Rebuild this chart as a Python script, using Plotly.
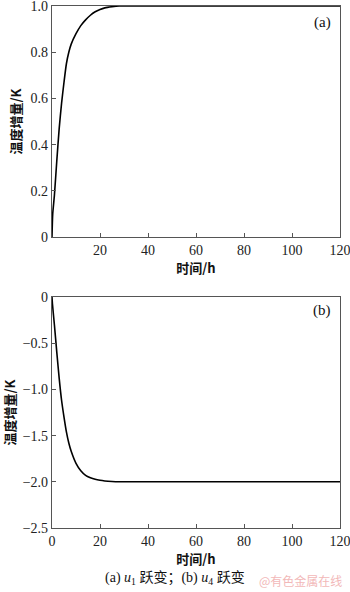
import plotly.graph_objects as go

# Data
t_a = [0, 0.3, 1, 2, 3, 4, 5, 6, 7, 8, 10, 12, 14, 16, 18, 20, 22, 25, 28, 30, 120]
y_a = [0, 0.1, 0.18, 0.33, 0.47, 0.58, 0.67, 0.75, 0.8, 0.835, 0.88, 0.915, 0.94,
       0.96, 0.975, 0.985, 0.992, 0.997, 1.0, 1.0, 1.0]

t_b = [0, 0.2, 1, 2, 3, 4, 5, 6, 7, 8, 10, 12, 14, 16, 18, 20, 22, 25, 28, 30, 120]
y_b = [0, -0.08, -0.3, -0.6, -0.88, -1.12, -1.3, -1.46, -1.58, -1.67, -1.8, -1.88,
       -1.93, -1.956, -1.973, -1.984, -1.991, -1.997, -2.0, -2.0, -2.0]

xticks_a = [20, 40, 60, 80, 100, 120]
xticks_b = [0, 20, 40, 60, 80, 100, 120]
yticks_a = [0, 0.2, 0.4, 0.6, 0.8, 1.0]
ytext_a = ["0", "0.2", "0.4", "0.6", "0.8", "1.0"]
yticks_b = [0, -0.5, -1.0, -1.5, -2.0, -2.5]
ytext_b = ["0", "\u22120.5", "\u22121.0", "\u22121.5", "\u22122.0", "\u22122.5"]

W, H = 350, 592
SERIF = "Liberation Serif"
CJK = "Noto Sans CJK SC"
AX = "#555555"

fig = go.Figure()
fig.add_trace(go.Scatter(x=t_a, y=y_a, mode="lines", line=dict(color="black", width=1.6,
                         shape="spline", smoothing=0.6), xaxis="x", yaxis="y", showlegend=False))
fig.add_trace(go.Scatter(x=t_b, y=y_b, mode="lines", line=dict(color="black", width=1.6,
                         shape="spline", smoothing=0.6), xaxis="x2", yaxis="y2", showlegend=False))

def px_x(p):
    return p / W

def px_y(p):
    return 1 - p / H

common_axis = dict(showline=True, linecolor=AX, linewidth=1.3, mirror=True,
                   ticks="inside", ticklen=4, tickcolor=AX, tickwidth=1,
                   showgrid=False, zeroline=False, automargin=False,
                   ticklabeloverflow="allow",
                   tickfont=dict(family=SERIF, size=14, color="#222"))

title_font = dict(family=CJK, size=13, color="#111", weight="bold")

def note(text, x, y, font):
    return dict(text=text, x=px_x(x), y=px_y(y), xref="paper", yref="paper",
                xanchor="center", yanchor="middle", showarrow=False, font=font)

fig.update_layout(
    width=W, height=H, margin=dict(l=0, r=0, t=0, b=0),
    paper_bgcolor="white", plot_bgcolor="white",
    xaxis=dict(domain=[px_x(52), px_x(340)], range=[0, 120], tickvals=xticks_a,
               anchor="y", title=dict(text="时间/h", font=title_font, standoff=3),
               **common_axis),
    yaxis=dict(domain=[px_y(237), px_y(6)], range=[0, 1.0], tickvals=yticks_a, ticktext=ytext_a,
               anchor="x", title=dict(text="温度增量/K", font=title_font, standoff=5),
               **common_axis),
    xaxis2=dict(domain=[px_x(52), px_x(340)], range=[0, 120], tickvals=xticks_b,
                anchor="y2", title=dict(text="时间/h", font=title_font, standoff=3),
                **common_axis),
    yaxis2=dict(domain=[px_y(528), px_y(297)], range=[-2.5, 0], tickvals=yticks_b, ticktext=ytext_b,
                anchor="x2", title=dict(text="温度增量/K", font=title_font, standoff=5),
                **common_axis),
    annotations=[
        note("(a)", 322, 22, dict(family=SERIF, size=15, color="#111")),
        note("(b)", 322, 310, dict(family=SERIF, size=15, color="#111")),
        note("(a) <i>u</i><sub>1</sub> 跃变；(b) <i>u</i><sub>4</sub> 跃变", 175, 578,
             dict(family=SERIF + ", " + CJK, size=14, color="#111")),
        note("@有色金属在线", 300, 580, dict(family=CJK, size=12, color="#f2b8b8")),
    ],
)

fig.write_html("out.html", config={"displayModeBar": False},
               post_script="document.body.style.margin='0';document.body.style.overflow='hidden';")
